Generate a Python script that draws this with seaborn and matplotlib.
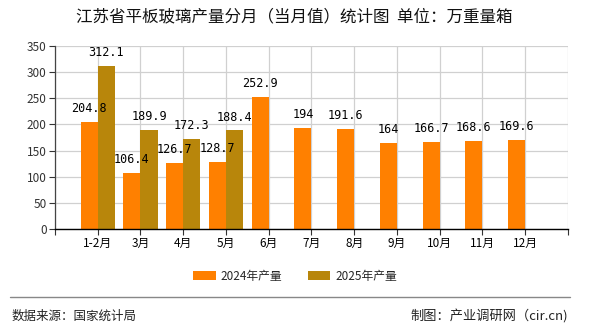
import matplotlib
matplotlib.use("Agg")
import matplotlib.pyplot as plt
import seaborn as sns
import pandas as pd
from matplotlib.patches import Patch
from matplotlib.lines import Line2D

categories = ["1-2月", "3月", "4月", "5月", "6月", "7月", "8月", "9月", "10月", "11月", "12月"]
values_2024 = [204.8, 106.4, 126.7, 128.7, 252.9, 194, 191.6, 164, 166.7, 168.6, 169.6]
values_2025 = [312.1, 189.9, 172.3, 188.4]
series_names = ["2024年产量", "2025年产量"]
colors = ["#FF8000", "#B8860B"]
yticks = [0, 50, 100, 150, 200, 250, 300, 350]

rows = []
for c, v in zip(categories, values_2024):
    rows.append({"month": c, "series": series_names[0], "value": v})
for c, v in zip(categories, values_2025):
    rows.append({"month": c, "series": series_names[1], "value": v})
df = pd.DataFrame(rows)

sns.set_theme(style="white")
plt.rcParams["font.family"] = ["Noto Sans CJK SC", "DejaVu Sans"]

fig = plt.figure(figsize=(5.9, 3.3), dpi=100)
ax = fig.add_axes([0.0932, 0.3061, 0.8695, 0.5545])

sns.barplot(data=df, x="month", y="value", hue="series", order=categories,
            hue_order=series_names, palette=colors, width=0.8, saturation=1,
            ax=ax, legend=False, errorbar=None, linewidth=0, edgecolor="none")

for cont in ax.containers:
    labels = [f"{b.get_height():g}" for b in cont]
    ax.bar_label(cont, labels=labels, padding=5, fontsize=8.5,
                 family=["DejaVu Sans Mono"], color="#000000")

ax.set_xlim(-1, len(categories))
ax.set_ylim(0, 350)
ax.set_yticks(yticks)
ax.set_yticklabels([str(t) for t in yticks], fontsize=8.5, color="#333333")
ax.set_xticks(range(-1, len(categories) + 1))
ax.set_xticklabels([""] + categories + [""], fontsize=8.5, color="#000000")
ax.set_xlabel("")
ax.set_ylabel("")
ax.grid(True, color="#d0d0d0", linewidth=0.9)
ax.set_axisbelow(True)
for s in ["top", "right"]:
    ax.spines[s].set_visible(False)
ax.spines["left"].set_color("#444444")
ax.spines["left"].set_linewidth(0.9)
ax.spines["bottom"].set_color("#000000")
ax.spines["bottom"].set_linewidth(1.0)
ax.tick_params(axis="both", which="both", length=4, width=0.8, color="#333333",
               bottom=True, left=True, pad=2)

fig.text(0.498, 0.948, "江苏省平板玻璃产量分月（当月值）统计图  单位：万重量箱",
         ha="center", va="center", fontsize=11.9, color="#111111")

handles = [Patch(facecolor=colors[0], edgecolor="none"),
           Patch(facecolor=colors[1], edgecolor="none")]
fig.legend(handles, series_names, loc="center", bbox_to_anchor=(0.5, 0.163),
           ncol=2, frameon=False, fontsize=8.5, handlelength=1.9,
           handleheight=0.7, columnspacing=2.2, handletextpad=0.4)

fig.add_artist(Line2D([0.017, 0.966], [0.1, 0.1], color="#888888",
                      linewidth=1.0, transform=fig.transFigure))
fig.text(0.02, 0.042, "数据来源：国家统计局", ha="left", va="center",
         fontsize=9, color="#222222")
fig.text(0.963, 0.042, "制图：产业调研网（cir.cn)", ha="right", va="center",
         fontsize=9.5, color="#222222")

fig.savefig("out.png", dpi=100)
